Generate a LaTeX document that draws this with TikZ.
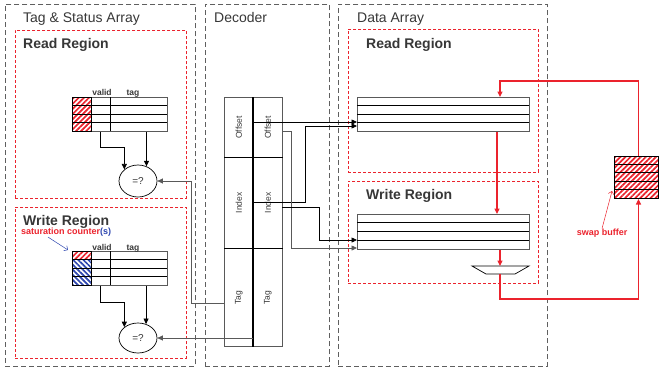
\documentclass[tikz,border=0pt]{standalone}
\usepackage{fontspec}
\setmainfont{Liberation Sans}
\usepackage{graphicx}
\usetikzlibrary{shapes.geometric,arrows.meta,patterns.meta}

\definecolor{rred}{RGB}{235,35,45}
\definecolor{bblue}{RGB}{45,70,175}
\definecolor{dgray}{RGB}{55,55,55}

\begin{document}
\begin{tikzpicture}[x=1pt, y=-1pt,
  arr/.style={-{Triangle[length=5.5pt,width=5pt]}, line width=0.7pt},
  redarr/.style={rred, line width=1.2pt, -{Triangle[length=5.5pt,width=5pt]}},
  outerbox/.style={draw=dgray!80, dash pattern=on 5pt off 3pt, line width=0.8pt, anchor=north west, inner sep=0},
  regionbox/.style={draw=rred, dash pattern=on 3pt off 2pt, line width=0.7pt, anchor=north west, inner sep=0},
  title/.style={anchor=base west, inner sep=0, text=dgray, font=\fontsize{14}{16}\selectfont},
  regtitle/.style={title, font=\fontsize{14}{16}\selectfont\bfseries},
  collabel/.style={anchor=base, inner sep=0, text=dgray, font=\fontsize{8.5}{9}\selectfont\bfseries},
  note/.style={inner sep=0, font=\fontsize{9}{10}\selectfont\bfseries},
  tabbox/.style={draw=gray!70!black, line width=0.8pt, anchor=north west, inner sep=0},
  rowline/.style={black, line width=1pt},
  hatchred/.style={pattern={Lines[angle=45,distance=3.6pt,line width=1.7pt]}, pattern color=rred},
  hatchblue/.style={pattern={Lines[angle=-45,distance=3.6pt,line width=1.7pt]}, pattern color=bblue},
  cmp/.style={ellipse, draw, line width=0.7pt, minimum width=38pt, minimum height=32pt, inner sep=0,
    text=dgray, font=\fontsize{10}{11}\selectfont},
  deccell/.style={draw=gray!70!black, line width=0.8pt, minimum width=29pt, anchor=north west, inner sep=0,
    text=dgray, font=\fontsize{8.5}{9}\selectfont}
]
\useasboundingbox (0,0) rectangle (660,370);

% the three arrays
\node[outerbox, minimum width=190pt, minimum height=362pt] (tagarr) at (5,4) {};
\node[outerbox, minimum width=124pt, minimum height=362pt] (decarr) at (205,4) {};
\node[outerbox, minimum width=209pt, minimum height=362pt] (datarr) at (338,4) {};
\node[title] (tagt) at (23,22) {Tag \& Status Array};
\node[title] (dect) at (214,22) {Decoder};
\node[title] (datt) at (357,22) {Data Array};

% regions
\node[regionbox, minimum width=171pt, minimum height=168pt] (tagread) at (15,30) {};
\node[regionbox, minimum width=171pt, minimum height=151pt] (tagwrite) at (15,207) {};
\node[regionbox, minimum width=190pt, minimum height=143pt] (dread) at (348,29) {};
\node[regionbox, minimum width=190pt, minimum height=102pt] (dwrite) at (348,181) {};
\node[regtitle] (tagreadt) at (23,48) {Read Region};
\node[regtitle] (tagwritet) at (23,225) {Write Region};
\node[regtitle] (dreadt) at (366,48) {Read Region};
\node[regtitle] (dwritet) at (366,199) {Write Region};

% tag table, read region
\foreach \r in {0,...,3}
  \fill[hatchred] (72,97+8.5*\r) rectangle ++(19,8.5);
\node[tabbox, minimum width=95pt, minimum height=34pt] (rtab) at (72,97) {};
\foreach \r in {1,2,3}
  \draw[rowline] (72,97+8.5*\r) -- ++(95,0);
\draw[rowline] (91,97) -- (91,131) (110,97) -- (110,131);
\draw[line width=1pt] (72,97) rectangle (91,131);
\node[collabel] (rvalid) at (102,95) {valid};
\node[collabel] (rtag) at (133,95) {tag};

% tag table, write region
\fill[hatchred] (72,251) rectangle ++(19,8.5);
\foreach \r in {1,2,3}
  \fill[hatchblue] (72,251+8.5*\r) rectangle ++(19,8.5);
\node[tabbox, minimum width=95pt, minimum height=34pt] (wtab) at (72,251) {};
\foreach \r in {1,2,3}
  \draw[rowline] (72,251+8.5*\r) -- ++(95,0);
\draw[rowline] (91,251) -- (91,285) (110,251) -- (110,285);
\draw[line width=1pt] (72,251) rectangle (91,285);
\node[collabel] (wvalid) at (102,250) {valid};
\node[collabel] (wtag) at (133,250) {tag};

\node[note, anchor=base west] (satl) at (21,234) {\textcolor{rred}{saturation counter}\textcolor{bblue}{(s)}};
\draw[bblue, line width=0.5pt, -{Straight Barb[length=3pt]}] ([xshift=27pt,yshift=-1pt]satl.south west) -- ([xshift=-4pt,yshift=1pt]wtab.north west);

% comparators
\node[cmp] (rcmp) at (138,181) {=?};
\node[cmp, minimum height=30pt] (wcmp) at (138,338) {=?};
\draw[arr] ([xshift=28.5pt]rtab.south west) -- ++(0,16) -| (rcmp.north west);
\draw[arr] (rcmp.60 |- rtab.south) -- (rcmp.60);
\draw[arr] ([xshift=28.5pt]wtab.south west) -- ++(0,17) -| (wcmp.north west);
\draw[arr] (wcmp.60 |- wtab.south) -- (wcmp.60);

% decoder fields
\foreach \n/\x in {l/224, r/253}
  {
  \node[deccell, minimum height=60pt] (off\n) at (\x,97) {\rotatebox{90}{Offset}};
  \node[deccell, minimum height=91pt] (ind\n) at (\x,157) {\rotatebox{90}{Index}};
  \node[deccell, minimum height=98pt] (tag\n) at (\x,248) {\rotatebox{90}{Tag}};
  }
\draw[line width=1.2pt] (offr.north west) -- (tagr.south west);
\draw[line width=0.8pt] (offl.south west) -- (offr.south east);
\draw[line width=1.2pt] (indl.south west) -- (indr.south east);

% data tables
\node[tabbox, minimum width=172pt, minimum height=34pt] (drtab) at (357,97) {};
\node[tabbox, minimum width=172pt, minimum height=35pt] (dwtab) at (357,214) {};
\foreach \r in {1,2,3}
  {
  \draw[rowline] (357,97+8.5*\r) -- ++(172,0);
  \draw[rowline] (357,214+8.7*\r) -- ++(172,0);
  }

% decoder wires
\coordinate (tapoff) at (253,122);
\coordinate (tapind) at (253,202);
\coordinate (tapoffb) at (282,131);
\coordinate (tapindb) at (282,207);
\coordinate (taptag) at (224,303);
\coordinate (taptagb) at (253,338);
\coordinate (drin) at (357,126);
\coordinate (dwina) at (357,240);
\coordinate (dwinb) at (357,248);
\draw[arr] (tapoff) -- (tapoff -| drtab.west);
\draw[arr] (tapind) -- ++(52,0) |- (drin);
\draw[arr, gray!70!black] (tapoffb) -- ++(9,0) |- (dwinb);
\draw[arr] (tapindb) -- ++(37,0) |- (dwina);
\draw[arr, gray!70!black] (taptag) -- ++(-33,0) |- (rcmp.east);
\draw[arr, gray!70!black] (taptagb) -- (wcmp.east);

% swap buffer
\node[draw, line width=1pt, hatchred, minimum width=44pt, minimum height=42pt, anchor=north west, inner sep=0] (buf) at (614,156) {};
\foreach \r in {1,...,4}
  \draw[rowline] (614,156+8.4*\r) -- ++(44,0);
\node[note, text=rred] (swapl) at (602,233) {swap buffer};
\draw[rred, line width=0.5pt, -{Straight Barb[length=3pt]}] (swapl.north) -- ([xshift=-2pt,yshift=8pt]buf.south west);

% mux
\coordinate (muxin) at (500,266);
\coordinate (muxout) at (500,274);
\draw[line width=0.7pt, fill=white] (472,266) -- (529,266) -- (515,274) -- (486,274) -- cycle;

% swap path
\draw[redarr] ([xshift=2pt]buf.north) -- ++(0,-75) -| ([xshift=143pt]drtab.north west);
\draw[redarr] ([xshift=140pt]drtab.south west) -- ([xshift=140pt]dwtab.north west);
\draw[redarr] ([xshift=143pt]dwtab.south west) -- (muxin);
\draw[redarr] (muxout) -- ++(0,25) -| ([xshift=2pt]buf.south);

\end{tikzpicture}
\end{document}
